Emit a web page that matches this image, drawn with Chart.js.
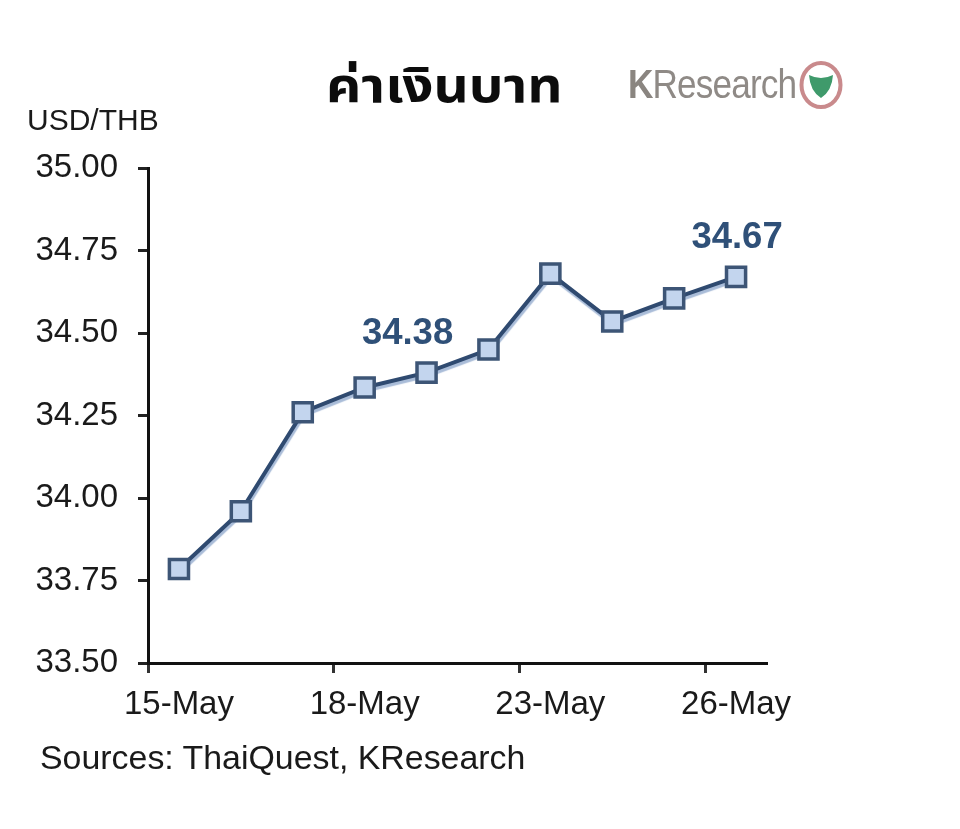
<!DOCTYPE html>
<html>
<head>
<meta charset="utf-8">
<script src="https://cdn.jsdelivr.net/npm/chart.js@4"></script>
<style>
html,body{margin:0;padding:0;background:#fff;}
#wrap{position:relative;width:960px;height:829px;overflow:hidden;font-family:"Liberation Sans",Arial,sans-serif;color:#1a1a1a;}
#chart{position:absolute;left:0;top:0;}
.txt{position:absolute;white-space:nowrap;line-height:1;}
#title{left:326px;top:64px;font-size:48px;font-weight:bold;color:#0c0c0c;font-family:"Noto Sans Thai","Noto Sans","DejaVu Sans",sans-serif;transform:scaleX(1.14);transform-origin:left top;}
#unit{left:27px;top:105px;font-size:30px;}
#source{left:40px;top:741px;font-size:33.9px;}
#logo{left:628px;top:64px;font-size:40px;color:#8f8a86;letter-spacing:-1px;transform:scaleX(.88);transform-origin:left top;}
#logo b{color:#8a8580;}
#seal{position:absolute;left:798px;top:60px;}
</style>
</head>
<body>
<div id="wrap">
  <canvas id="chart" width="960" height="829"></canvas>
  <div class="txt" id="title">ค่าเงินบาท</div>
  <div class="txt" id="logo"><b>K</b>Research</div>
  <svg id="seal" width="46" height="50" viewBox="0 0 46 50">
    <ellipse cx="23" cy="25" rx="19.5" ry="22" fill="#fff" stroke="#c98a8c" stroke-width="4"/>
    <path d="M11 15 Q23 21 35 15 Q34 31 23 38 Q12 31 11 15Z" fill="#3f9a6b"/>
  </svg>
  <div class="txt" id="unit">USD/THB</div>
  <div class="txt" id="source">Sources: ThaiQuest, KResearch</div>
</div>
<script>
const days = ["15-May","16-May","17-May","18-May","19-May","22-May","23-May","24-May","25-May","26-May"];
const usdThb = [33.785,33.96,34.26,34.335,34.38,34.45,34.68,34.535,34.605,34.67];
const labelled = [4,9];
const labelShift = [-19,1];

/* ---------- LINE SHADOW (line dataset only) ---------- */
const shadow = {
  id:"shadow",
  beforeDatasetDraw(c,args){
    c.ctx.save();
    if(args.index!==0) return;
    c.ctx.shadowColor = "#a9bcd8";
    c.ctx.shadowBlur = 1;
    c.ctx.shadowOffsetX = 1;
    c.ctx.shadowOffsetY = 3;
  },
  afterDatasetDraw(c){ c.ctx.restore(); }
};

/* ---------- VALUE LABELS ---------- */
const valueLabels = {
  id:"valueLabels",
  afterDatasetsDraw(c){
    const {ctx,scales:{x,y}} = c;
    ctx.save();
    ctx.font = "bold 36.5px 'Liberation Sans'";
    ctx.fillStyle = "#2f5078";
    ctx.textAlign = "center";
    ctx.textBaseline = "middle";
    labelled.forEach((i,n)=>{
      ctx.fillText(usdThb[i].toFixed(2), x.getPixelForValue(i)+labelShift[n], y.getPixelForValue(usdThb[i])-39);
    });
    ctx.restore();
  }
};

new Chart(document.getElementById("chart"),{
  type:"line",
  data:{
    labels:days,
    datasets:[{
      data:usdThb,
      order:2,
      borderColor:"#2f4a70",
      borderWidth:4,
      tension:0,
      pointRadius:0
    },{
      data:usdThb,
      order:1,
      showLine:false,
      pointStyle:"rect",
      pointRadius:13.5,
      pointBorderWidth:3.5,
      pointBackgroundColor:"#c3d5ee",
      pointBorderColor:"#3d5576"
    }]
  },
  options:{
    responsive:false,
    animation:false,
    layout:{padding:{left:0,right:193,top:168,bottom:0}},
    plugins:{legend:{display:false},title:{display:false},tooltip:{enabled:false}},
    scales:{
      x:{
        offset:true,
        afterFit(s){ s.height = 166; },
        border:{color:"#111",width:3},
        grid:{
          offset:true,
          drawOnChartArea:false,
          tickLength:10,
          tickWidth:3,
          tickColor:c=>c.index%3===0?"#333":"rgba(0,0,0,0)"
        },
        ticks:{
          autoSkip:false,
          maxRotation:0,
          padding:12,
          color:"#1a1a1a",
          font:{family:"Liberation Sans",size:33},
          callback(v,i){ return i%3===0?days[i]:""; }
        }
      },
      y:{
        min:33.5,
        max:35,
        afterFit(s){ s.width = 148; },
        border:{color:"#111",width:3},
        grid:{drawOnChartArea:false,tickLength:10,tickWidth:3,tickColor:"#222"},
        ticks:{
          stepSize:.25,
          padding:20,
          color:"#1a1a1a",
          font:{family:"Liberation Sans",size:33},
          callback:v=>v.toFixed(2)
        }
      }
    }
  },
  plugins:[shadow,valueLabels]
});
</script>
</body>
</html>
